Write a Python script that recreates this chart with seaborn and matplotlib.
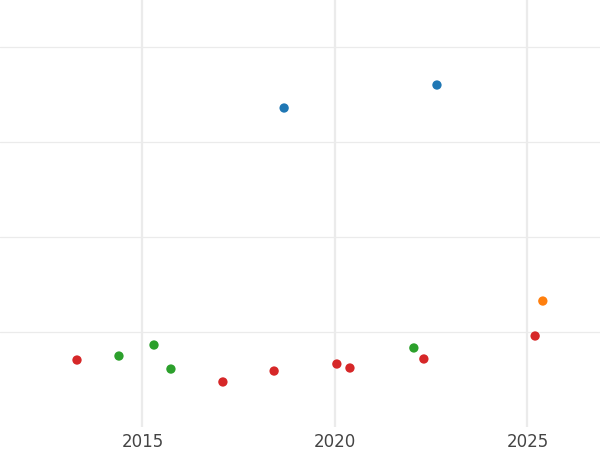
import matplotlib
matplotlib.use("Agg")
import matplotlib.pyplot as plt
import seaborn as sns
import pandas as pd

# values
years = [2013.30, 2014.39, 2015.30, 2015.74, 2017.09, 2018.42, 2018.68,
         2020.05, 2020.39, 2022.05, 2022.31, 2022.65, 2025.20, 2025.40]
values = [7.05, 7.47, 8.63, 6.10, 4.74, 5.89, 33.58,
          6.63, 6.21, 8.32, 7.16, 36.00, 9.58, 13.26]
groups = ["D", "C", "C", "C", "D", "D", "A",
          "D", "D", "C", "D", "A", "D", "B"]
group_order = ["A", "B", "C", "D"]
year_ticks = [2015, 2020, 2025]

df = pd.DataFrame({"year": years, "value": values, "group": groups})

sns.set_style("white")
fig = plt.figure(figsize=(6, 4.5), dpi=100)
ax = fig.add_axes([0, 23 / 450, 1, 1 - 23 / 450])

sns.scatterplot(data=df, x="year", y="value", hue="group", hue_order=group_order,
                palette="tab10", s=45, linewidth=0, legend=False, ax=ax, zorder=3)

ax.set_xlim(2011.30, 2026.885)
ax.set_ylim(0, 44.95)
ax.set_xticks(year_ticks)
ax.set_xticklabels([str(y) for y in year_ticks])
ax.set_yticks([10, 20, 30, 40])
ax.set_yticklabels([])
ax.tick_params(axis="x", length=0, pad=4, labelsize=12, labelcolor="#444444")
ax.tick_params(axis="y", length=0)
ax.grid(axis="x", color="#ebebeb", linewidth=1.6)
ax.grid(axis="y", color="#ebebeb", linewidth=0.9)
ax.set_xlabel("")
ax.set_ylabel("")
sns.despine(ax=ax, left=True, bottom=True)

fig.savefig("out.png", dpi=100)
